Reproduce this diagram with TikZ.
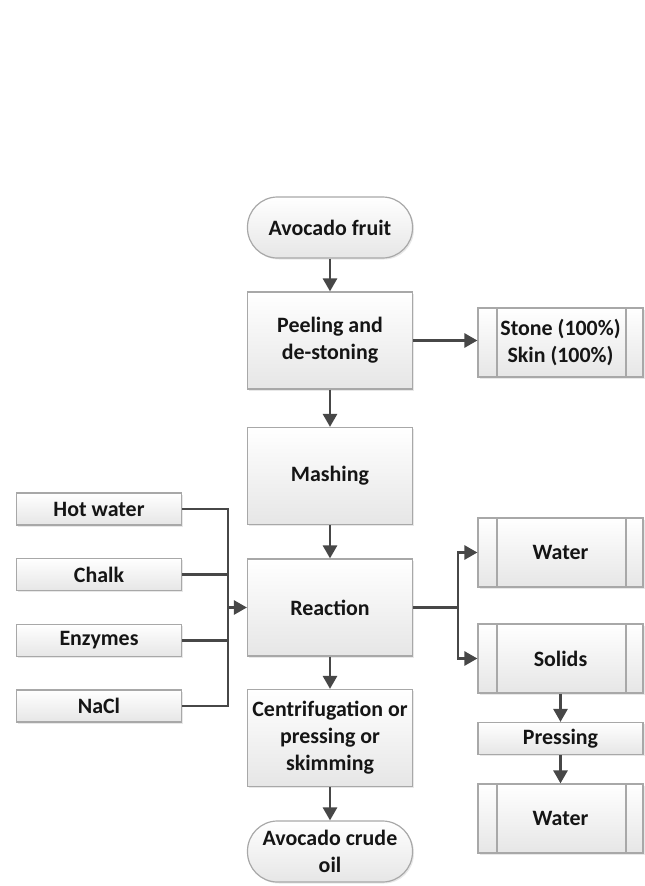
\documentclass[tikz,border=0pt]{standalone}
\usepackage{fontspec}
\setmainfont{Carlito}
\usepackage{tikz}
\usetikzlibrary{arrows.meta, shadows}
\definecolor{boxedge}{HTML}{A8A8A8}
\definecolor{boxfill}{HTML}{E6E6E6}
\definecolor{flow}{HTML}{474747}
\definecolor{ink}{HTML}{151515}

\begin{document}
\begin{tikzpicture}[x=1bp, y=-1bp,
	box/.style={draw=boxedge, line width=1.2bp, top color=white, bottom color=boxfill,
		drop shadow={opacity=0.18, shadow xshift=1.5bp, shadow yshift=-1.5bp},
		minimum width=165bp, inner sep=2bp, align=center, text=ink,
		font=\bfseries\fontsize{22}{27}\selectfont},
	terminal/.style={box, minimum height=61bp, rounded corners=30bp},
	process/.style={box, minimum height=97bp},
	input/.style={box, minimum height=32bp},
	stored/.style={box, minimum height=69bp,
		path picture={
			\draw[boxedge, line width=1.2bp] ([xshift=19bp]path picture bounding box.north west) -- ([xshift=19bp]path picture bounding box.south west);
			\draw[boxedge, line width=1.2bp] ([xshift=-17bp]path picture bounding box.north east) -- ([xshift=-17bp]path picture bounding box.south east);
		}},
	link/.style={draw=flow, line width=2.7bp},
	arrow/.style={link, -{Triangle[length=13bp, width=14bp]}}]

	\useasboundingbox (0,0) rectangle (645,886);

	\node[terminal] (fruit) at (330,227.5) {Avocado fruit};
	\node[process] (peel) at (330,340.5) {Peeling and\\de-stoning};
	\node[process] (mash) at (330,476) {Mashing};
	\node[process] (react) at (330,607.5) {Reaction};
	\node[process] (centri) at (330,738) {Centrifugation or\\pressing or\\skimming};
	\node[terminal] (oil) at (330,851.5) {Avocado crude\\oil};

	\node[input] (hot) at (99,509) {Hot water};
	\node[input] (chalk) at (99,574.5) {Chalk};
	\node[input] (enz) at (99,640.5) {Enzymes};
	\node[input] (nacl) at (99,706) {NaCl};

	\node[stored] (stone) at (560.5,342.5) {Stone (100\%)\\Skin (100\%)};
	\node[stored] (water) at (560.5,552.5) {Water};
	\node[stored] (solids) at (560.5,658.5) {Solids};
	\node[input] (press) at (560.5,738.5) {Pressing};
	\node[stored] (water2) at (560.5,818.5) {Water};

	\coordinate (join) at (228,607.5);
	\coordinate (split) at (458,607.5);

	\draw[arrow] (fruit) -- (peel);
	\draw[arrow] (peel) -- (mash);
	\draw[arrow] (mash) -- (react);
	\draw[arrow] (react) -- (centri);
	\draw[arrow] (centri) -- (oil);
	\draw[arrow] (peel.east) -- (peel.east -| stone.west);

	\draw[link] (hot.east) -| (join);
	\draw[link] (nacl.east) -| (join);
	\draw[link] (chalk.east) -- (chalk.east -| join);
	\draw[link] (enz.east) -- (enz.east -| join);
	\draw[arrow] (join) -- (react.west);

	\draw[link] (react.east) -- (split);
	\draw[arrow] (split) |- (water.west);
	\draw[arrow] (split) |- (solids.west);
	\draw[arrow] (solids) -- (press);
	\draw[arrow] (press) -- (water2);

\end{tikzpicture}
\end{document}
